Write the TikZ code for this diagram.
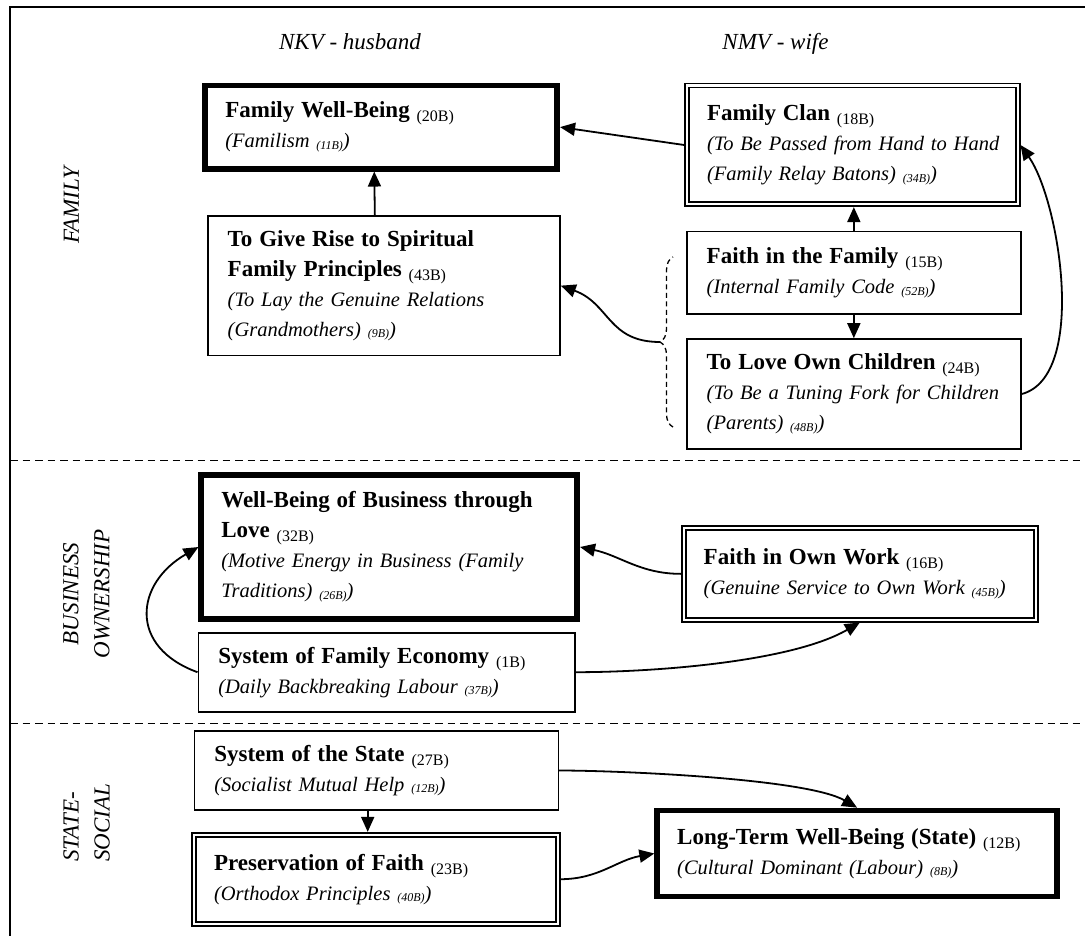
\documentclass[tikz,border=0pt]{standalone}
\usepackage{fontspec}
\setmainfont{Liberation Serif}
\usetikzlibrary{arrows.meta}
\usetikzlibrary{calc}
\usetikzlibrary{decorations.pathreplacing}
\newcommand{\boxtitle}[2]{{\bfseries\fontsize{23}{30}\selectfont #1} \raisebox{-4pt}{\fontsize{16}{16}\selectfont(#2)}}
\newcommand{\boxnote}[2]{{\itshape(#1 \raisebox{-1.5pt}{\fontsize{12}{12}\selectfont(#2)})}}

\begin{document}
\begin{tikzpicture}[x=1pt, y=1pt,
  plainbox/.style={draw, line width=1.6pt, inner xsep=10pt, inner ysep=0pt, align=left,
    font=\fontsize{20.5}{30}\selectfont, execute at begin node={\leftskip=10pt}},
  thickbox/.style={plainbox, line width=5.7pt},
  dblbox/.style={plainbox, double, double distance=2.4pt, outer sep=2.8pt},
  head/.style={font=\fontsize{23}{31}\selectfont\itshape, inner sep=0pt},
  layer/.style={line width=1.5pt, dash pattern=on 7.5pt off 5pt},
  arr/.style={-{Triangle[length=15pt,width=13pt]}, line width=1.8pt}]

\useasboundingbox (0,0) rectangle (1085,-936);

\draw[line width=2.2pt] (10,-936) -- (10,-7) -- (1085,-7);
\draw[layer] (10,-460.5) -- (1085,-460.5);
\draw[layer] (10,-723.3) -- (1085,-723.3);

\draw (350,-50) node[head, anchor=base] (nkv) {NKV - husband};
\draw (775.5,-50) node[head, anchor=base] (nmv) {NMV - wife};
\draw (71.4,-205) node[head, rotate=90] (famrow) {FAMILY};
\draw (86.5,-594) node[head, rotate=90, align=center] (bizrow) {BUSINESS\\OWNERSHIP};
\draw (86.5,-823) node[head, rotate=90, align=left] (socrow) {STATE-\\SOCIAL};

\draw (381.25,-127.1) node[thickbox, minimum width=351.9pt, minimum height=83.2pt, text width=331.9pt] (wellbeing)
  {\boxtitle{Family Well-Being}{20B}\\ \boxnote{Familism}{11B}};
\draw (383.85,-285.65) node[plainbox, minimum width=352.3pt, minimum height=139.3pt, text width=332.3pt] (spiritual)
  {\boxtitle{To Give Rise to Spiritual\\Family Principles}{43B}\\ \boxnote{To Lay the Genuine Relations\\(Grandmothers)}{9B}};
\draw (852.35,-145) node[dblbox, minimum width=330.7pt, minimum height=118.6pt, text width=310.7pt] (clan)
  {\boxtitle{Family Clan}{18B}\\ \boxnote{To Be Passed from Hand to Hand\\(Family Relay Batons)}{34B}};
\draw (853.85,-273) node[plainbox, minimum width=334.3pt, minimum height=82.6pt, text width=314.3pt] (faithfamily)
  {\boxtitle{Faith in the Family}{15B}\\ \boxnote{Internal Family Code}{52B}};
\draw (853.85,-394) node[plainbox, minimum width=334.3pt, minimum height=110pt, text width=314.3pt] (children)
  {\boxtitle{To Love Own Children}{24B}\\ \boxnote{To Be a Tuning Fork for Children\\(Parents)}{48B}};

\draw (389.25,-547) node[thickbox, minimum width=375.9pt, minimum height=143.4pt, text width=355.9pt] (business)
  {\boxtitle{Well-Being of Business through\\Love}{32B}\\ \boxnote{Motive Energy in Business (Family\\Traditions)}{26B}};
\draw (386.65,-672.2) node[plainbox, minimum width=376.7pt, minimum height=79pt, text width=356.7pt] (economy)
  {\boxtitle{System of Family Economy}{1B}\\ \boxnote{Daily Backbreaking Labour}{37B}};
\draw (859.85,-573.85) node[dblbox, minimum width=352.3pt, minimum height=91.7pt, text width=332.3pt] (ownwork)
  {\boxtitle{Faith in Own Work}{16B}\\ \boxnote{Genuine Service to Own Work}{45B}};

\draw (376.3,-770.5) node[plainbox, minimum width=364pt, minimum height=79pt, text width=344pt] (statesys)
  {\boxtitle{System of the State}{27B}\\ \boxnote{Socialist Mutual Help}{12B}};
\draw (375.85,-879.2) node[dblbox, minimum width=363.7pt, minimum height=89pt, text width=343.7pt] (preservation)
  {\boxtitle{Preservation of Faith}{23B}\\ \boxnote{Orthodox Principles}{40B}};
\draw (857.1,-853.5) node[thickbox, minimum width=399.8pt, minimum height=86pt, text width=379.8pt] (longterm)
  {\boxtitle{Long-Term Well-Being (State)}{12B}\\ \boxnote{Cultural Dominant (Labour)}{8B}};

\draw[line width=1.3pt, dash pattern=on 5pt off 3.5pt, decorate, decoration={brace, amplitude=13pt}] (673,-427) -- (673,-257);
\coordinate (bracetip) at (660,-342);

\draw[arr] ($(spiritual.north)+(-9,0)$) -- ($(wellbeing.south)+(-7,0)$);
\draw[arr] (clan.west) -- (wellbeing.east);
\draw[arr] (faithfamily.north) -- (faithfamily.north |- clan.south);
\draw[arr] (faithfamily.south) -- (faithfamily.south |- children.north);
\draw[arr] (children.east) to[out=15, in=-55, looseness=0.7] (clan.east);
\draw[arr] (bracetip) to[out=180, in=-20, looseness=1.17] (spiritual.east);

\draw[arr] (ownwork.west) to[out=180, in=-12] (business.east);
\draw[arr] (economy.east) to[out=0, in=-150, looseness=0.7] (ownwork.south);
\draw[arr] (economy.west) to[out=160, in=-150, looseness=1.5] (business.west);

\draw[arr] ($(statesys.south)+(-8.6,0)$) coordinate (sdrop) -- (sdrop |- preservation.north);
\draw[arr] (statesys.east) to[out=0, in=150, looseness=0.5] (longterm.north);
\draw[arr] (preservation.east) to[out=0, in=190] (longterm.west);

\end{tikzpicture}
\end{document}
